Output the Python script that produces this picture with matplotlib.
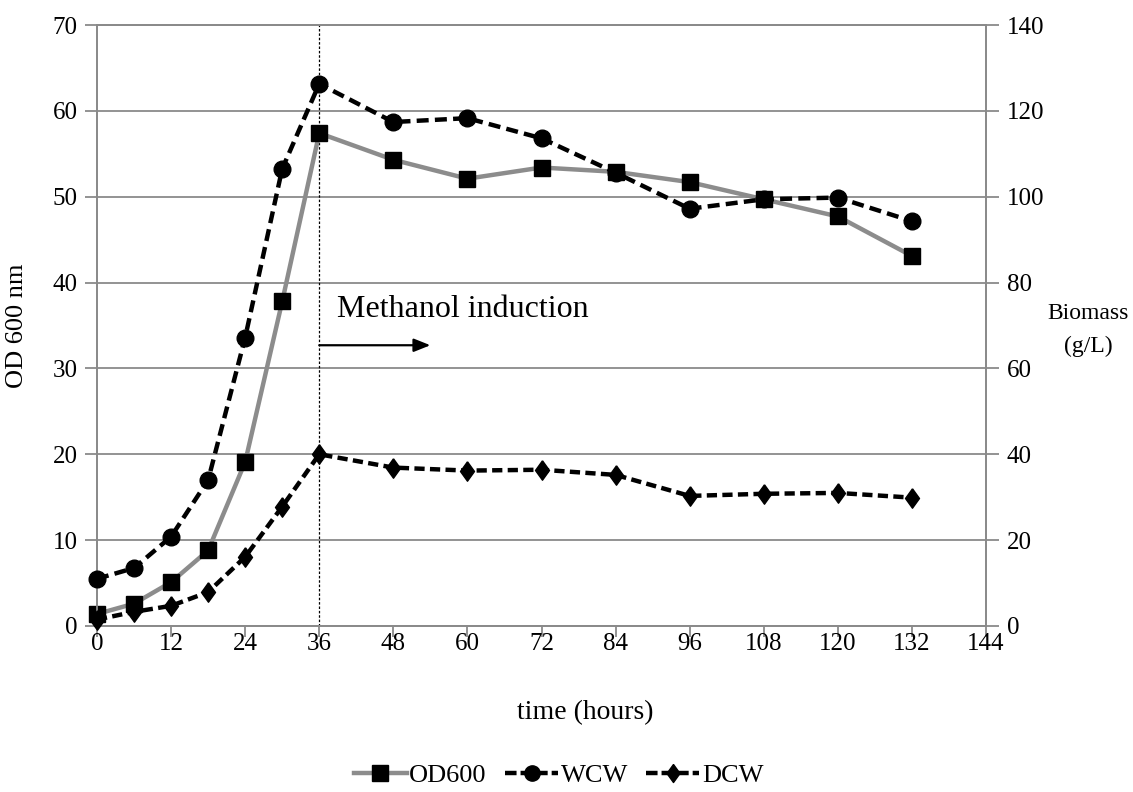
import matplotlib
matplotlib.use("Agg")
import matplotlib.pyplot as plt
from matplotlib.lines import Line2D

plt.rcParams["font.family"] = ["Liberation Serif", "DejaVu Serif"]

# Fermentation time course
hours = [0, 6, 12, 18, 24, 30, 36, 48, 60, 72, 84, 96, 108, 120, 132]
od600 = [1.4, 2.6, 5.1, 8.8, 19.1, 37.8, 57.4, 54.3, 52.1, 53.4, 52.9, 51.7, 49.7, 47.7, 43.1]
wcw = [11.0, 13.5, 20.8, 34.0, 67.2, 106.5, 126.3, 117.4, 118.3, 113.6, 105.6, 97.2, 99.4, 99.8, 94.3]
dcw = [1.5, 3.3, 4.7, 7.9, 16.1, 27.8, 40.0, 36.9, 36.2, 36.4, 35.2, 30.3, 30.8, 31.0, 29.9]

x_ticks = list(range(0, 145, 12))
od_ticks = list(range(0, 71, 10))
biomass_ticks = list(range(0, 141, 20))
induction_hour = 36

GRID = "#8a8a8a"
OD_GREY = "#8c8c8c"
# slightly narrow diamond used for DCW
DIAMOND = [(0, 1), (0.72, 0), (0, -1), (-0.72, 0), (0, 1)]

fig = plt.figure(figsize=(11.33, 7.92), dpi=100)
ax = fig.add_axes([97 / 1133, 1 - 626 / 792, (986 - 97) / 1133, (626 - 25) / 792])
ax2 = ax.twinx()

ax.set_xlim(0, 144)
ax.set_ylim(0, 70)
ax2.set_ylim(0, 140)

for a in (ax, ax2):
    for s in a.spines.values():
        s.set_color(GRID)
        s.set_linewidth(1.3)

ax.set_xticks(x_ticks)
ax.set_yticks(od_ticks)
ax2.set_yticks(biomass_ticks)
ax.yaxis.grid(True, color=GRID, linewidth=1.3)
ax.set_axisbelow(True)

ax.tick_params(axis="x", length=8, width=1.3, color=GRID, labelsize=18, pad=-3)
ax.tick_params(axis="y", length=9, width=1.3, color=GRID, labelsize=18, pad=5)
ax2.tick_params(axis="y", length=9, width=1.3, color=GRID, labelsize=18, pad=6)

# Induction marker line
ax.axvline(induction_hour, color="black", linewidth=0.9, linestyle=(0, (2, 1.5)), zorder=2)

# OD600 on the left axis
ax.plot(hours, od600, color=OD_GREY, linewidth=3.2, zorder=3)
ax.plot(hours, od600, linestyle="none", marker="s", markersize=12,
        color="black", zorder=5, clip_on=False)

# Biomass on the right axis
ax2.plot(hours, wcw, color="black", linewidth=3.2, linestyle=(0, (2.7, 1.4)),
         dash_capstyle="butt", zorder=3)
ax2.plot(hours, wcw, linestyle="none", marker="o", markersize=12,
         color="black", zorder=5, clip_on=False)

ax2.plot(hours, dcw, color="black", linewidth=3.2, linestyle=(0, (2.3, 1.2)),
         dash_capstyle="butt", zorder=3)
ax2.plot(hours, dcw, linestyle="none", marker=DIAMOND, markersize=14,
         color="black", zorder=5, clip_on=False)

# Annotation for the methanol feed
ax.text(38.9, 36.0, "Methanol induction", fontsize=23, va="baseline", ha="left")
ax.annotate("", xy=(54.0, 32.7), xytext=(induction_hour, 32.7),
            arrowprops=dict(arrowstyle="-|>,head_length=1.0,head_width=0.4",
                            color="black", linewidth=1.6, shrinkA=0, shrinkB=0))

fig.text(585 / 1133, 1 - 713 / 792, "time (hours)", fontsize=20, ha="center", va="center")
fig.text(17 / 1133, 1 - 326 / 792, "OD 600 nm", rotation=90, fontsize=19,
         ha="center", va="center")
fig.text(1088 / 1133, 1 - 330 / 792, "Biomass\n(g/L)", fontsize=17,
         ha="center", va="center", linespacing=1.75)

handles = [
    Line2D([], [], color=OD_GREY, linewidth=3.2, marker="s", markersize=12,
           markerfacecolor="black", markeredgecolor="black"),
    Line2D([], [], color="black", linewidth=3.2, linestyle=(0, (2.6, 0.9)),
           dash_capstyle="butt", marker="o", markersize=11, markerfacecolor="black"),
    Line2D([], [], color="black", linewidth=3.2, linestyle=(0, (2.6, 0.9)),
           dash_capstyle="butt", marker=DIAMOND, markersize=13, markerfacecolor="black"),
]
fig.legend(handles, ["OD600", "WCW", "DCW"], loc="center", bbox_to_anchor=(0.493, 1 - 775 / 792),
           ncol=3, frameon=False, fontsize=19, handlelength=2.0, handletextpad=0.1,
           columnspacing=0.7)

fig.savefig("out.png", dpi=100, facecolor="white")
